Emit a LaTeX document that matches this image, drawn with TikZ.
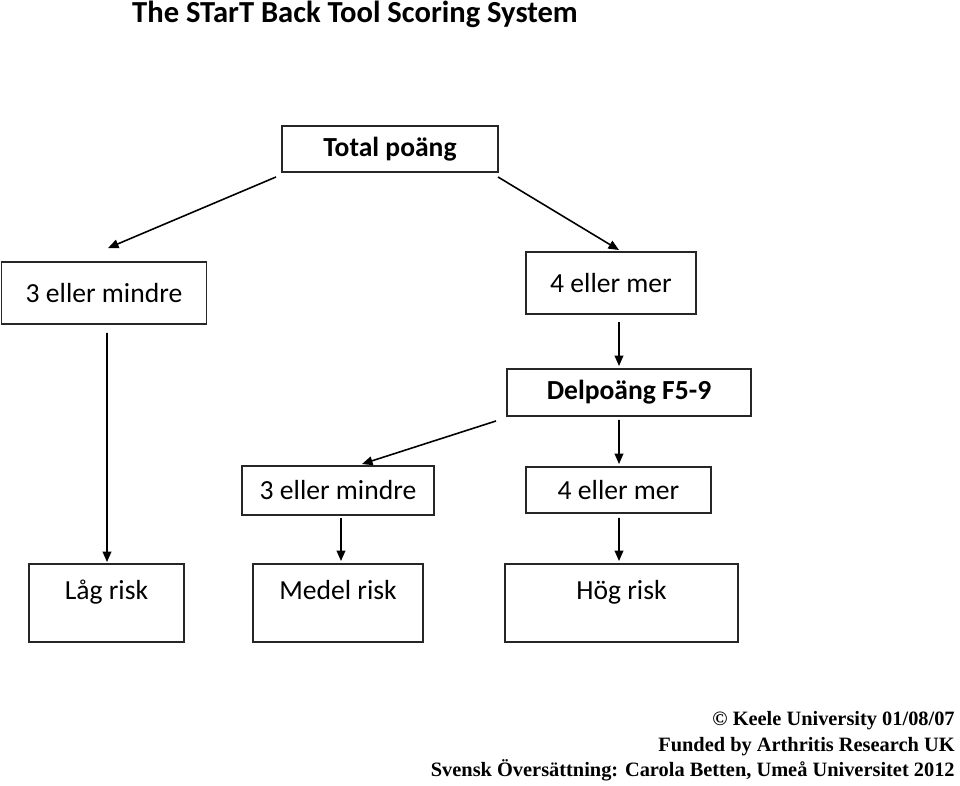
\documentclass[tikz,border=0pt]{standalone}
\usepackage{fontspec}
\setmainfont{Carlito}
\newfontfamily\footfont{Liberation Serif}
\usetikzlibrary{arrows.meta}
\tikzset{
  box/.style 2 args={draw=black!85, line width=1.1pt, inner sep=0pt, align=center,
    minimum width=#1*0.02cm, minimum height=#2*0.02cm, font=\fontsize{15.7}{14.7}\selectfont},
  bbox/.style 2 args={box={#1}{#2}, font=\fontsize{15.7}{14.7}\selectfont\bfseries},
  arr/.style={line width=0.9pt, -{Triangle[length=6pt,width=5pt]}},
}
\begin{document}
\begin{tikzpicture}[x=0.02cm,y=-0.02cm]
\useasboundingbox (0,0) rectangle (960,785);
\node[font=\fontsize{17.4}{20}\selectfont\bfseries] (title) at (355,14) {The STarT Back Tool Scoring System};
\node[bbox={216}{46}] (tp) at (390,149) {Total poäng};
\node[box={205}{62}] (l1) at (104,293) {3 eller mindre};
\node[box={170}{62}] (r1) at (611,283) {4 eller mer};
\node[bbox={244}{47}] (dp) at (629,392.5) {Delpoäng F5-9};
\node[box={192}{49}] (l2) at (338,490.5) {3 eller mindre};
\node[box={185}{46}] (r2) at (618.5,490) {4 eller mer};
\node[box={155}{78}] (lr) at (106.5,603) {Låg risk\\ \mbox{}};
\node[box={170}{78}] (mr) at (338,603) {Medel risk\\ \mbox{}};
\node[box={233}{78}] (hr) at (621.5,603) {Hög risk\\ \mbox{}};
\draw[arr] ([shift={(-5,4)}]tp.south west) -- ([shift={(4,-13)}]l1.north);
\draw[arr] ([shift={(-1,4)}]tp.south east) -- ([shift={(8,-1)}]r1.north);
\draw[arr] ([shift={(3,8)}]l1.south) -- ([shift={(0.5,-1)}]lr.north);
\draw[arr] ([shift={(8,7)}]r1.south) -- ([shift={(-10,-2)}]dp.north);
\draw[arr] ([shift={(-10,3)}]dp.south) -- ([shift={(0.5,-2)}]r2.north);
\draw[arr] ([shift={(-10,4)}]dp.south west) -- ([shift={(24,-1)}]l2.north);
\draw[arr] ([shift={(3,2)}]l2.south) -- ([shift={(3,-2)}]mr.north);
\draw[arr] ([shift={(0.5,4)}]r2.south) -- ([shift={(-2.5,-2)}]hr.north);
\node[anchor=north east, align=right, inner sep=0pt,
  font=\footfont\fontsize{11.6}{14.6}\selectfont\bfseries] (foot) at (955,711)
  {© Keele University 01/08/07\\ Funded by Arthritis Research UK\\ Svensk Översättning: Carola Betten, Umeå Universitet 2012};
\end{tikzpicture}
\end{document}
